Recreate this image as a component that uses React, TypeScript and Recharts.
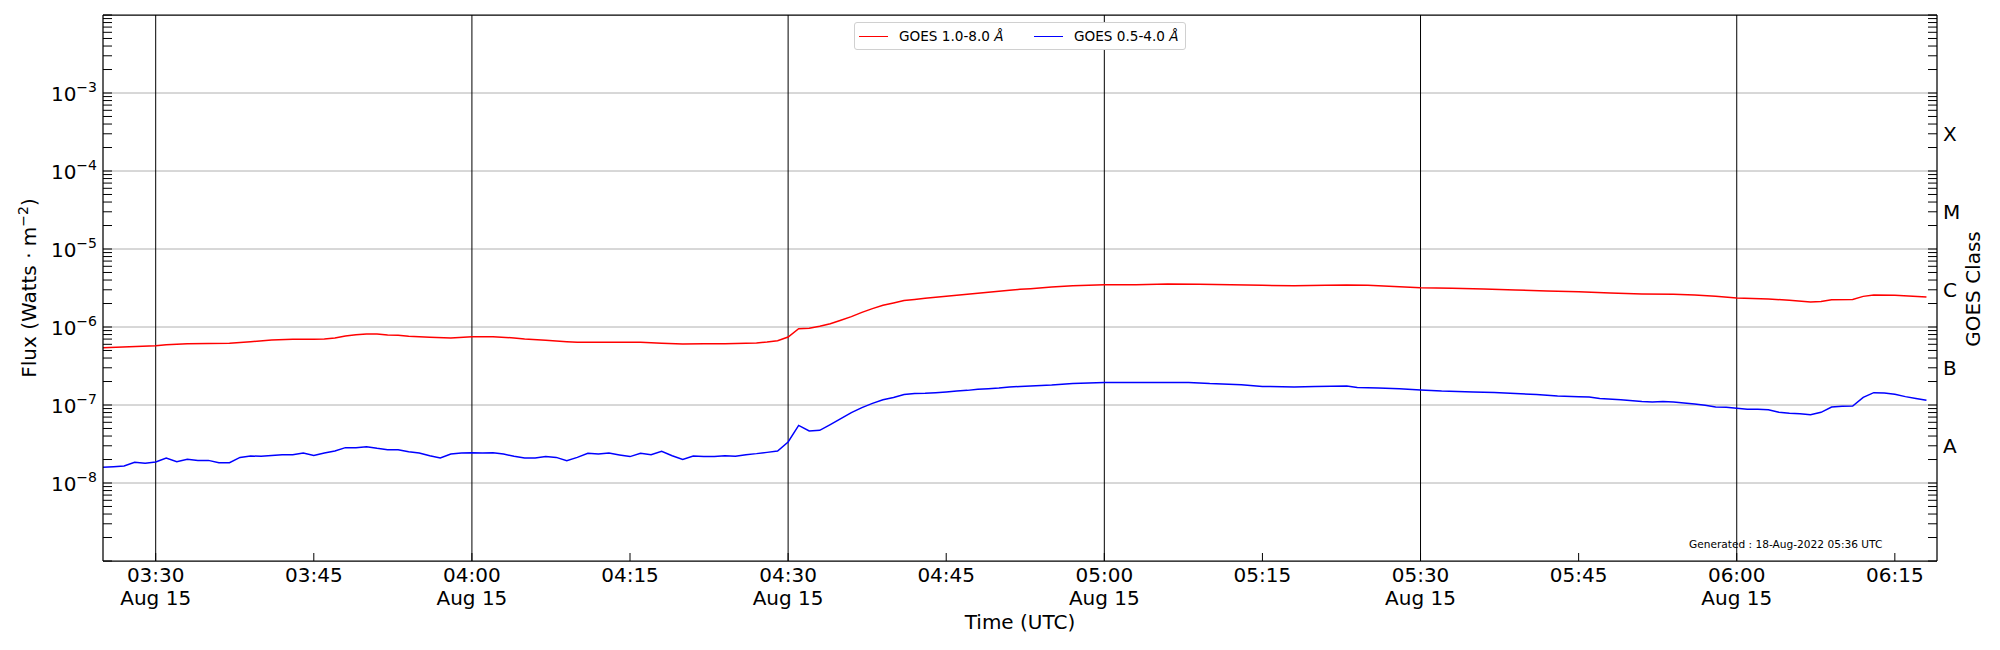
import React from "react"
import { LineChart, Line, XAxis, YAxis, ReferenceLine, Legend } from "recharts"

// minutes after 00:00 UTC, 15 Aug 2022
const redMinutes = [
  205, 210, 211, 213, 217, 219, 221, 223, 225, 226, 227, 228, 229, 230, 231, 232, 233, 234,
  236, 238, 240, 242, 244, 245, 247, 249, 250, 252, 254, 256, 258, 260, 262, 264, 266, 267,
  268, 269, 270, 271, 272, 273, 274, 275, 276, 277, 278, 279, 280, 281, 282, 283, 284, 285,
  286, 287, 288, 289, 290, 291, 292, 293, 295, 297, 300, 303, 306, 309, 312, 315, 318, 321,
  323, 325, 327, 330, 333, 336, 339, 342, 345, 348, 351, 354, 356, 358, 360, 363, 365, 367,
  368, 369, 371, 372, 373, 375, 378,
]
const redFlux = [
  5.43e-7, 5.76e-7, 5.94e-7, 6.11e-7, 6.17e-7, 6.49e-7, 6.81e-7, 6.95e-7, 6.95e-7, 7.02e-7,
  7.23e-7, 7.67e-7, 7.97e-7, 8.13e-7, 8.13e-7, 7.89e-7, 7.81e-7, 7.59e-7, 7.37e-7, 7.23e-7,
  7.52e-7, 7.52e-7, 7.23e-7, 7.01e-7, 6.75e-7, 6.49e-7, 6.36e-7, 6.36e-7, 6.36e-7, 6.36e-7,
  6.17e-7, 6.05e-7, 6.11e-7, 6.11e-7, 6.17e-7, 6.23e-7, 6.42e-7, 6.68e-7, 7.44e-7, 9.52e-7,
  9.61e-7, 1.02e-6, 1.1e-6, 1.22e-6, 1.36e-6, 1.54e-6, 1.72e-6, 1.9e-6, 2.03e-6, 2.18e-6,
  2.26e-6, 2.33e-6, 2.4e-6, 2.47e-6, 2.55e-6, 2.62e-6, 2.7e-6, 2.78e-6, 2.87e-6, 2.95e-6,
  3.04e-6, 3.1e-6, 3.26e-6, 3.39e-6, 3.49e-6, 3.49e-6, 3.56e-6, 3.52e-6, 3.49e-6, 3.42e-6,
  3.39e-6, 3.42e-6, 3.45e-6, 3.42e-6, 3.32e-6, 3.19e-6, 3.13e-6, 3.07e-6, 2.98e-6, 2.9e-6,
  2.84e-6, 2.73e-6, 2.65e-6, 2.62e-6, 2.57e-6, 2.47e-6, 2.35e-6, 2.29e-6, 2.2e-6, 2.09e-6,
  2.13e-6, 2.24e-6, 2.26e-6, 2.47e-6, 2.57e-6, 2.55e-6, 2.42e-6,
]

const blueMinutes = [
  205, 206, 207, 208, 209, 210, 211, 212, 213, 214, 215, 216, 217, 218, 219, 220, 221, 222,
  223, 224, 225, 226, 227, 228, 229, 230, 231, 232, 233, 234, 235, 236, 237, 238, 239, 240,
  241, 242, 243, 244, 245, 246, 247, 248, 249, 250, 251, 252, 253, 254, 255, 256, 257, 258,
  259, 260, 261, 262, 263, 264, 265, 266, 267, 268, 269, 270, 271, 272, 273, 274, 275, 276,
  277, 278, 279, 280, 281, 282, 283, 284, 285, 286, 287, 288, 289, 290, 291, 292, 293, 295,
  297, 300, 303, 306, 308, 310, 313, 315, 318, 320, 323, 324, 326, 328, 330, 332, 335, 337,
  339, 341, 343, 345, 346, 347, 349, 351, 352, 353, 354, 355, 356, 357, 358, 359, 360, 361,
  362, 363, 364, 365, 366, 367, 368, 369, 370, 371, 372, 373, 374, 375, 376, 377, 378,
]
const blueFlux = [
  1.59e-8, 1.62e-8, 1.65e-8, 1.84e-8, 1.79e-8, 1.86e-8, 2.09e-8, 1.88e-8, 2.01e-8, 1.95e-8,
  1.95e-8, 1.82e-8, 1.82e-8, 2.13e-8, 2.22e-8, 2.2e-8, 2.26e-8, 2.31e-8, 2.31e-8, 2.42e-8,
  2.26e-8, 2.42e-8, 2.57e-8, 2.84e-8, 2.84e-8, 2.92e-8, 2.78e-8, 2.67e-8, 2.67e-8, 2.52e-8,
  2.42e-8, 2.24e-8, 2.09e-8, 2.35e-8, 2.42e-8, 2.45e-8, 2.42e-8, 2.45e-8, 2.35e-8, 2.2e-8,
  2.09e-8, 2.09e-8, 2.18e-8, 2.13e-8, 1.93e-8, 2.13e-8, 2.4e-8, 2.35e-8, 2.42e-8, 2.29e-8,
  2.18e-8, 2.4e-8, 2.31e-8, 2.55e-8, 2.24e-8, 2.01e-8, 2.22e-8, 2.18e-8, 2.18e-8, 2.24e-8,
  2.2e-8, 2.31e-8, 2.38e-8, 2.47e-8, 2.57e-8, 3.36e-8, 5.48e-8, 4.64e-8, 4.73e-8, 5.6e-8,
  6.68e-8, 7.98e-8, 9.25e-8, 1.05e-7, 1.17e-7, 1.25e-7, 1.36e-7, 1.4e-7, 1.41e-7, 1.44e-7,
  1.47e-7, 1.51e-7, 1.54e-7, 1.59e-7, 1.62e-7, 1.65e-7, 1.7e-7, 1.73e-7, 1.75e-7, 1.8e-7,
  1.88e-7, 1.95e-7, 1.95e-7, 1.95e-7, 1.95e-7, 1.88e-7, 1.82e-7, 1.73e-7, 1.7e-7, 1.73e-7,
  1.75e-7, 1.68e-7, 1.65e-7, 1.62e-7, 1.56e-7, 1.51e-7, 1.47e-7, 1.45e-7, 1.4e-7, 1.36e-7,
  1.3e-7, 1.28e-7, 1.27e-7, 1.21e-7, 1.17e-7, 1.11e-7, 1.09e-7, 1.11e-7, 1.09e-7, 1.06e-7,
  1.03e-7, 9.9e-8, 9.43e-8, 9.33e-8, 9.06e-8, 8.8e-8, 8.8e-8, 8.71e-8, 8.05e-8, 7.82e-8,
  7.74e-8, 7.52e-8, 8.05e-8, 9.43e-8, 9.61e-8, 9.71e-8, 1.25e-7, 1.44e-7, 1.42e-7, 1.37e-7,
  1.28e-7, 1.21e-7, 1.15e-7,
]

const timeTicks = [210, 225, 240, 255, 270, 285, 300, 315, 330, 345, 360, 375]
const halfHours = [210, 240, 270, 300, 330, 360]
const dateLabel = "Aug 15"

const decades = [-9, -8, -7, -6, -5, -4, -3, -2]
const labelledDecades = [-8, -7, -6, -5, -4, -3]
const gridDecades = [-8, -7, -6, -5, -4, -3]
const minorSteps = [2, 3, 4, 5, 6, 7, 8, 9]

const classLetters = ["A", "B", "C", "M", "X"]
const classFlux = [3e-8, 3e-7, 3e-6, 3e-5, 3e-4]

const redLabel = "GOES 1.0-8.0 "
const blueLabel = "GOES 0.5-4.0 "

const redData = redMinutes.map((m, i) => ({ minute: m, flux: redFlux[i] }))
const blueData = blueMinutes.map((m, i) => ({ minute: m, flux: blueFlux[i] }))

const logTicks = decades.flatMap((d) =>
  d === -2 ? [1e-2] : [Number((10 ** d).toPrecision(3)), ...minorSteps.map((s) => Number((s * 10 ** d).toPrecision(3)))]
)

const FONT = "'DejaVu Sans', sans-serif"
const pad = (n: number) => String(n).padStart(2, "0")

function FluxTick({ x, y, payload }: any) {
  const v = payload.value
  const exp = Math.round(Math.log10(v))
  const isDecade = Math.abs(v / 10 ** exp - 1) < 1e-6
  return (
    <g>
      <line x1={x} x2={x + 9} y1={y} y2={y} stroke="#000" strokeWidth={1} />
      {isDecade && labelledDecades.includes(exp) && (
        <text x={x - 6} y={y + 8} textAnchor="end" fontSize={20} fill="#000" fontFamily={FONT}>
          10
          <tspan dy={-9} fontSize={14}>
            {"\u2212" + -exp}
          </tspan>
        </text>
      )}
    </g>
  )
}

function ClassTick({ x, y, payload }: any) {
  const v = payload.value
  const idx = classFlux.findIndex((c) => Math.abs(c / v - 1) < 1e-6)
  return (
    <g>
      <line x1={x - 9} x2={x} y1={y} y2={y} stroke="#000" strokeWidth={1} />
      {idx >= 0 && (
        <text x={x + 6} y={y + 7.5} textAnchor="start" fontSize={20} fill="#000" fontFamily={FONT}>
          {classLetters[idx]}
        </text>
      )}
    </g>
  )
}

function TimeTick({ x, y, payload }: any) {
  const m = payload.value
  const label = `${pad(Math.floor(m / 60))}:${pad(m % 60)}`
  return (
    <g>
      <line x1={x} x2={x} y1={y} y2={y - 8} stroke="#000" strokeWidth={1} />
      <text x={x} y={y + 20.7} textAnchor="middle" fontSize={20} fill="#000" fontFamily={FONT}>
        {label}
      </text>
      {halfHours.includes(m) && (
        <text x={x} y={y + 44} textAnchor="middle" fontSize={20} fill="#000" fontFamily={FONT}>
          {dateLabel}
        </text>
      )}
    </g>
  )
}

function LegendBox() {
  const sample = (color: string, left: number) => (
    <div style={{ position: "absolute", left, top: 13, width: 29, height: 0, borderTop: `1.5px solid ${color}` }} />
  )
  const label = (text: string, left: number) => (
    <span style={{ position: "absolute", left, top: 0, lineHeight: "27px" }}>
      {text}
      <i>Å</i>
    </span>
  )
  return (
    <div
      style={{
        position: "relative",
        boxSizing: "border-box",
        width: 332,
        height: 28,
        border: "1px solid #d0d0d0",
        borderRadius: 3,
        background: "#fff",
        fontFamily: FONT,
        fontSize: 13.6,
        color: "#000",
        whiteSpace: "nowrap",
      }}
    >
      {sample("#ff0000", 4)}
      {label(redLabel, 44)}
      {sample("#0000ff", 179)}
      {label(blueLabel, 219)}
    </div>
  )
}

export default function App() {
  return (
    <div style={{ position: "absolute", left: 0, top: 0, width: 2000, height: 650, background: "#fff", fontFamily: FONT }}>
      <LineChart width={2000} height={650} margin={{ top: 15, right: 23, bottom: 29, left: 23 }} style={{ fontFamily: FONT }}>
        <XAxis
          xAxisId="time"
          type="number"
          dataKey="minute"
          domain={[205, 379]}
          allowDataOverflow
          ticks={timeTicks}
          interval={0}
          tick={<TimeTick />}
          tickSize={0}
          tickMargin={0}
          tickLine={false}
          height={60}
          axisLine={{ stroke: "#000", strokeWidth: 1.25 }}
        />
        <YAxis
          yAxisId="flux"
          orientation="left"
          scale="log"
          domain={[1e-9, 1e-2]}
          allowDataOverflow
          ticks={logTicks}
          interval={0}
          tick={<FluxTick />}
          tickSize={0}
          tickMargin={0}
          tickLine={false}
          width={80}
          axisLine={{ stroke: "#000", strokeWidth: 1.25 }}
        />
        <YAxis
          yAxisId="class"
          orientation="right"
          scale="log"
          domain={[1e-9, 1e-2]}
          allowDataOverflow
          ticks={logTicks}
          interval={0}
          tick={<ClassTick />}
          tickSize={0}
          tickMargin={0}
          tickLine={false}
          width={40}
          axisLine={{ stroke: "#000", strokeWidth: 1.25 }}
        />
        {gridDecades.map((d) => (
          <ReferenceLine key={d} xAxisId="time" yAxisId="flux" y={10 ** d} stroke="#b0b0b0" strokeWidth={1} />
        ))}
        <ReferenceLine xAxisId="time" yAxisId="flux" y={1e-2} stroke="#000" strokeWidth={1.25} />
        {halfHours.map((m) => (
          <ReferenceLine key={m} xAxisId="time" yAxisId="flux" x={m} stroke="#000" strokeWidth={1} />
        ))}
        <Line
          xAxisId="time"
          yAxisId="flux"
          data={redData}
          dataKey="flux"
          name="GOES 1.0-8.0 Å"
          type="linear"
          stroke="#ff0000"
          strokeWidth={1.5}
          dot={false}
          isAnimationActive={false}
        />
        <Line
          xAxisId="time"
          yAxisId="flux"
          data={blueData}
          dataKey="flux"
          name="GOES 0.5-4.0 Å"
          type="linear"
          stroke="#0000ff"
          strokeWidth={1.5}
          dot={false}
          isAnimationActive={false}
        />
        <Legend
          layout="horizontal"
          verticalAlign="middle"
          align="center"
          content={<LegendBox />}
          wrapperStyle={{ left: 854, top: 22, width: 332, height: 28 }}
        />
      </LineChart>
      <svg width={2000} height={650} style={{ position: "absolute", left: 0, top: 0, pointerEvents: "none" }}>
        <text x={35.5} y={288} transform="rotate(-90 35.5 288)" textAnchor="middle" fontSize={20} fontFamily={FONT} fill="#000">
          Flux (Watts · m
          <tspan dy={-8} fontSize={14}>
            −2
          </tspan>
          <tspan dy={8}>)</tspan>
        </text>
        <text x={1980} y={289} transform="rotate(-90 1980 289)" textAnchor="middle" fontSize={20} fontFamily={FONT} fill="#000">
          GOES Class
        </text>
        <text x={1020} y={629} textAnchor="middle" fontSize={20} fontFamily={FONT} fill="#000">
          Time (UTC)
        </text>
        <text x={1689} y={548} textAnchor="start" fontSize={10.6} fontFamily={FONT} fill="#000">
          Generated : 18-Aug-2022 05:36 UTC
        </text>
      </svg>
    </div>
  )
}
